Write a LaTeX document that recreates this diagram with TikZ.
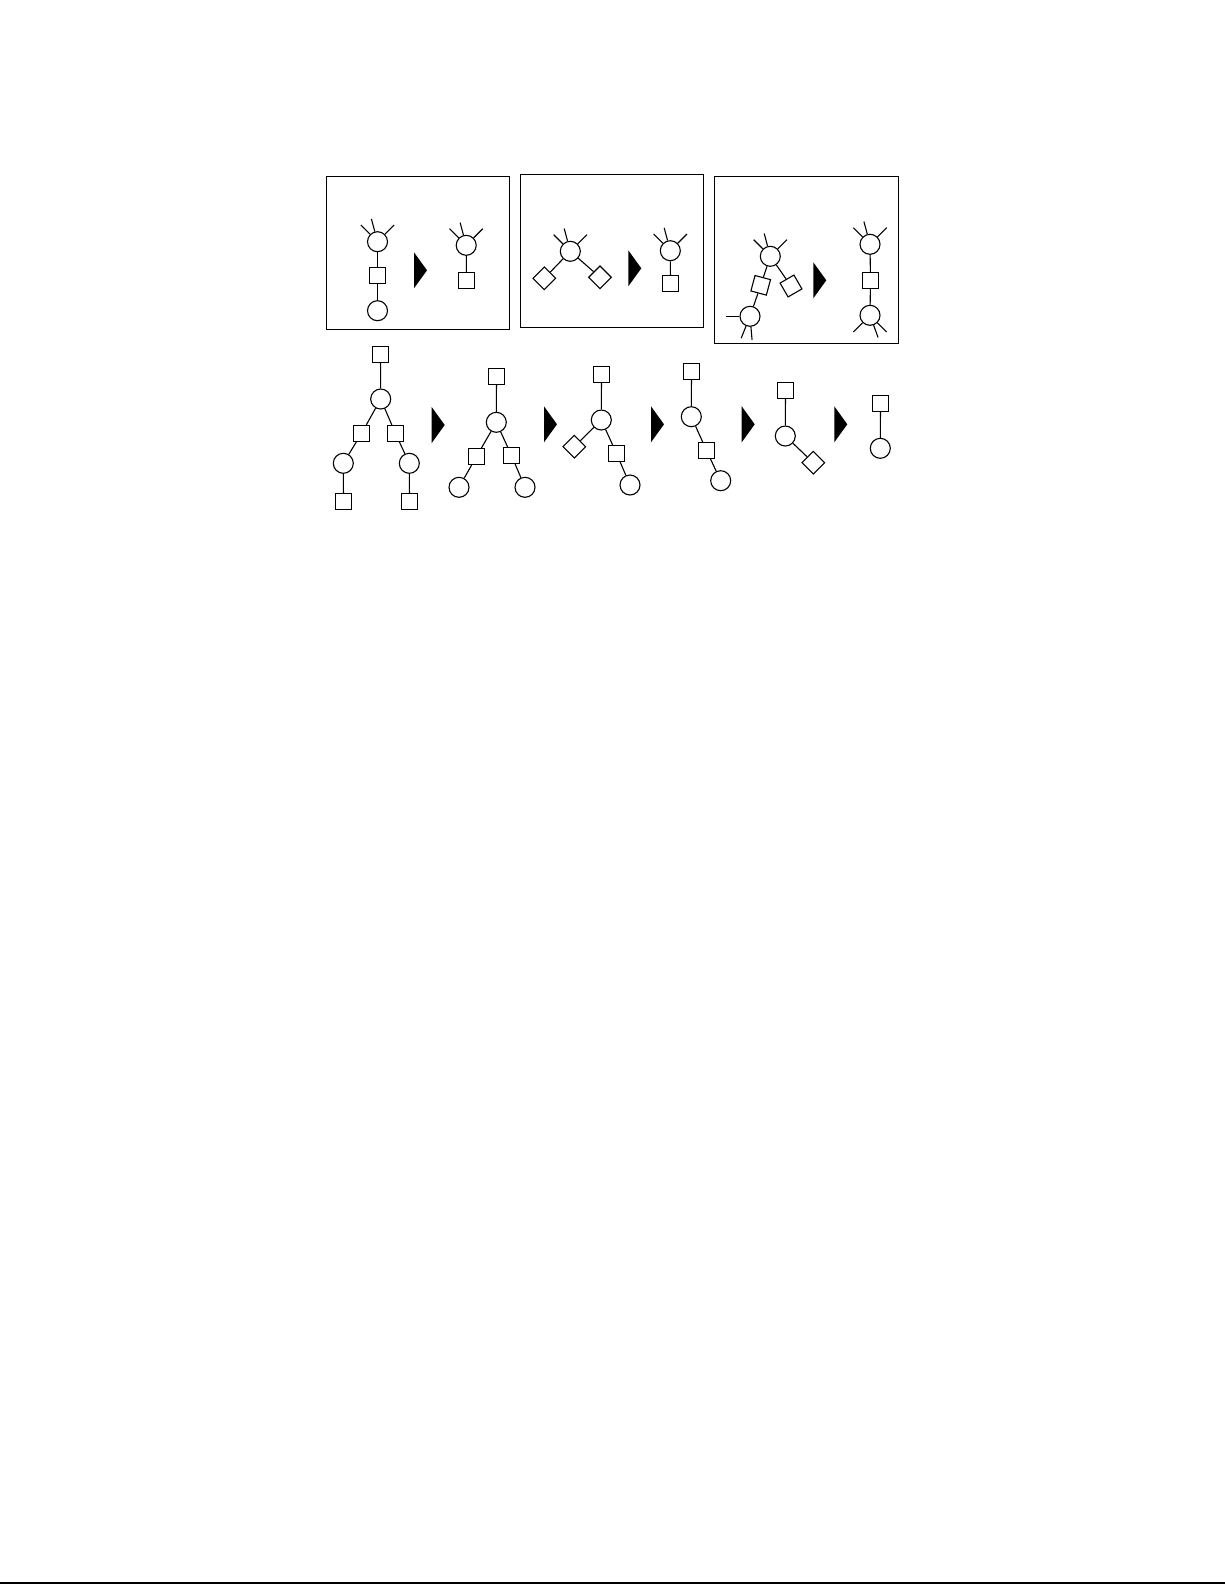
\documentclass[tikz,border=0pt]{standalone}
\usepackage{tikz}
\usetikzlibrary{positioning}

\tikzset{
  ring/.style={circle, draw, line width=1.1pt, minimum size=20pt, inner sep=0pt},
  unit/.style={rectangle, draw, line width=1.1pt, minimum size=16pt, inner sep=0pt},
  gem/.style={unit, rotate=45},
  bond/.style={line width=1.1pt},
  frame/.style={line width=1.2pt}
}
% open bonds sticking out of a ring
\newcommand{\spokes}[2]{\foreach \a in {#2} {\draw[bond] (#1.\a) -- ++(\a:13pt);}}
% black pointer between two stages
\newcommand{\pointer}[2]{\fill (#1,#2-18) -- (#1+13,#2) -- (#1,#2+18) -- cycle;}

\begin{document}
\begin{tikzpicture}[x=1pt, y=-1pt]
        \useasboundingbox (0,0) rectangle (1225,1585);

        % Rule 1
        \draw[frame] (326.5,176.5) rectangle (509.5,329.5);
        \node[ring] (b1a) at (377.5,241.7) {};
        \node[unit] (b1s) at (377.5,275.5) {};
        \node[ring] (b1b) at (377.5,310.7) {};
        \draw[bond] (b1a) -- (b1s) -- (b1b);
        \spokes{b1a}{135,105,45}
        \pointer{414}{270.3}
        \node[ring] (b1c) at (466.2,245.3) {};
        \node[unit] (b1t) at (466.5,280.5) {};
        \draw[bond] (b1c) -- (b1t);
        \spokes{b1c}{135,105,45}

        % Rule 2
        \draw[frame] (520.5,174.5) rectangle (703.5,327.5);
        \node[ring] (b2a) at (570.3,251.3) {};
        \node[gem] (b2l) at (544.3,278.3) {};
        \node[gem] (b2r) at (600,277.3) {};
        \draw[bond] (b2a) -- (b2l);
        \draw[bond] (b2a) -- (b2r);
        \spokes{b2a}{135,105,45}
        \pointer{628.3}{268.3}
        \node[ring] (b2c) at (670.3,250.7) {};
        \node[unit] (b2t) at (670.5,283.5) {};
        \draw[bond] (b2c) -- (b2t);
        \spokes{b2c}{135,105,45}

        % Rule 3
        \draw[frame] (714.5,176.5) rectangle (898.5,343.5);
        \node[ring] (b3a) at (770.3,256.3) {};
        \node[unit, rotate=-15] (b3s) at (760.7,285.3) {};
        \node[unit, rotate=30] (b3d) at (791,286) {};
        \node[ring] (b3b) at (750,316.3) {};
        \draw[bond] (b3a) -- (b3s) -- (b3b);
        \draw[bond] (b3a) -- (b3d);
        \spokes{b3a}{135,105,45}
        \spokes{b3b}{180,-112,-85}
        \pointer{813.3}{280.3}
        \node[ring] (b3c) at (870,244.3) {};
        \node[unit] (b3t) at (870.5,280.5) {};
        \node[ring] (b3e) at (870,315.3) {};
        \draw[bond] (b3c) -- (b3t) -- (b3e);
        \spokes{b3c}{135,105,45}
        \spokes{b3e}{-135,-70,-45}

        % Reduction sequence
        \node[unit] (t1a) at (380.5,354.5) {};
        \node[ring] (t1b) at (380.7,399) {};
        \node[unit] (t1c) at (361.5,433.5) {};
        \node[unit] (t1d) at (395.5,433.5) {};
        \node[ring] (t1e) at (343.3,463.3) {};
        \node[ring] (t1f) at (409.3,463.3) {};
        \node[unit] (t1g) at (343.5,501.5) {};
        \node[unit] (t1h) at (409.5,501.5) {};
        \foreach \u/\v in {t1a/t1b, t1b/t1c, t1b/t1d, t1c/t1e, t1d/t1f, t1e/t1g, t1f/t1h}
            \draw[bond] (\u) -- (\v);
        \pointer{431.7}{425}

        \node[unit] (t2a) at (496.5,376.5) {};
        \node[ring] (t2b) at (496.3,422.3) {};
        \node[unit] (t2c) at (476.5,456.5) {};
        \node[unit] (t2d) at (511.5,455.5) {};
        \node[ring] (t2e) at (459,487.3) {};
        \node[ring] (t2f) at (525,487.3) {};
        \foreach \u/\v in {t2a/t2b, t2b/t2c, t2b/t2d, t2c/t2e, t2d/t2f}
            \draw[bond] (\u) -- (\v);
        \pointer{544}{424.3}

        \node[unit] (t3a) at (601.5,374.5) {};
        \node[ring] (t3b) at (601.3,420) {};
        \node[gem] (t3c) at (574.3,446.7) {};
        \node[unit] (t3d) at (616.5,453.5) {};
        \node[ring] (t3e) at (630,485) {};
        \foreach \u/\v in {t3a/t3b, t3b/t3c, t3b/t3d, t3d/t3e}
            \draw[bond] (\u) -- (\v);
        \pointer{651}{424.3}

        \node[unit] (t4a) at (691.5,371.5) {};
        \node[ring] (t4b) at (691.3,416.7) {};
        \node[unit] (t4c) at (706.5,450.5) {};
        \node[ring] (t4d) at (720.7,480.7) {};
        \foreach \u/\v in {t4a/t4b, t4b/t4c, t4c/t4d}
            \draw[bond] (\u) -- (\v);
        \pointer{741.7}{424.3}

        \node[unit] (t5a) at (785.5,390.5) {};
        \node[ring] (t5b) at (785.3,436) {};
        \node[gem] (t5c) at (813.3,462.7) {};
        \draw[bond] (t5a) -- (t5b) -- (t5c);
        \pointer{834.3}{424.3}

        \node[unit] (t6a) at (880.5,403.5) {};
        \node[ring] (t6b) at (880.3,448.3) {};
        \draw[bond] (t6a) -- (t6b);

        % Page edge
        \draw[line width=2pt] (0,1583) -- (1225,1583);
    \end{tikzpicture}
\end{document}
